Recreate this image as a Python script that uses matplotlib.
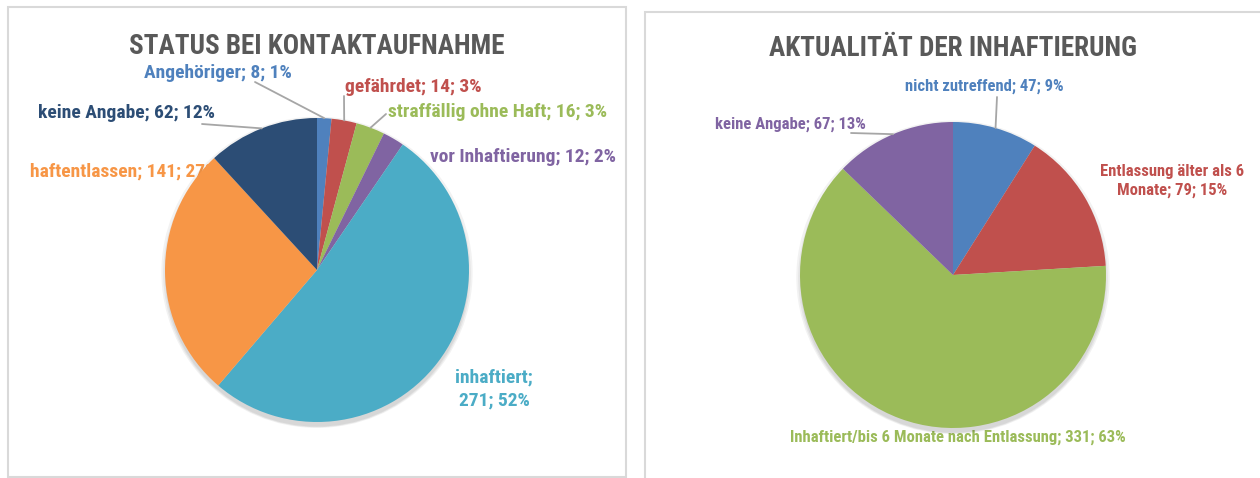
import matplotlib
matplotlib.use("Agg")
import matplotlib.pyplot as plt
from matplotlib import font_manager
from matplotlib.patches import Rectangle, Circle
import numpy as np

# Status bei Kontaktaufnahme
status_names = ["Angehöriger", "gefährdet", "straffällig ohne Haft", "vor Inhaftierung",
                "inhaftiert", "haftentlassen", "keine Angabe"]
status_values = [8, 14, 16, 12, 271, 141, 62]
status_pcts = [1, 3, 3, 2, 52, 27, 12]
status_colors = ["#4F81BD", "#C0504D", "#9BBB59", "#8064A2", "#4BACC6", "#F79646", "#2C4D75"]

# Aktualität der Inhaftierung
akt_names = ["nicht zutreffend", "Entlassung älter als 6\nMonate",
             "Inhaftiert/bis 6 Monate nach Entlassung", "keine Angabe"]
akt_values = [47, 79, 331, 67]
akt_pcts = [9, 15, 63, 13]
akt_colors = ["#4F81BD", "#C0504D", "#9BBB59", "#8064A2"]

W, H = 1260, 478

installed = {f.name for f in font_manager.fontManager.ttflist}
font = next(f for f in ["Liberation Sans Narrow", "Roboto Condensed", "Open Sans", "DejaVu Sans"]
            if f in installed)
plt.rcParams['font.family'] = [font, 'DejaVu Sans']


def px(x, y):
    return x / W, 1 - y / H


fig = plt.figure(figsize=(W / 100, H / 100), dpi=100)

# panel frames
fig.add_artist(Rectangle(px(8, 477), 618 / W, 470 / H, transform=fig.transFigure,
                         fill=False, ec="#D9D9D9", lw=1.5))
fig.add_artist(Rectangle(px(645, 490), 700 / W, 478 / H, transform=fig.transFigure,
                         fill=False, ec="#D9D9D9", lw=1.5))


def pie_axes(cx, cy, r):
    ax = fig.add_axes([(cx - r) / W, (H - cy - r) / H, 2 * r / W, 2 * r / H])
    ax.set_xlim(-1, 1)
    ax.set_ylim(-1, 1)
    ax.axis("off")
    ax.set_zorder(2)
    return ax


def shadow(ax):
    for i, a in enumerate([0.05, 0.05, 0.06]):
        ax.add_patch(Circle((0, -0.015 - 0.008 * i), 1.0 + 0.012 * (2 - i), color="k",
                            alpha=a, lw=0, zorder=0, clip_on=False))


def draw_pie(ax, values, colors):
    wedges, _ = ax.pie(values, colors=colors, startangle=90, counterclock=False,
                       radius=1, wedgeprops=dict(lw=0))
    for w in wedges:
        w.set_clip_on(False)
        w.set_zorder(3)
    ax.set_xlim(-1, 1)
    ax.set_ylim(-1, 1)
    return wedges


def leaders(ax, values, lines):
    cum = np.cumsum([0] + values)
    tot = sum(values)
    for i, (lx, ly) in lines.items():
        ang = np.deg2rad(90 - (cum[i] + values[i] / 2) / tot * 360)
        ax.annotate("", xy=(np.cos(ang), np.sin(ang)), xycoords="data",
                    xytext=px(lx, ly), textcoords="figure fraction",
                    arrowprops=dict(arrowstyle="-", color="#A6A6A6", lw=1.3,
                                    shrinkA=0, shrinkB=0), annotation_clip=False)


# ---------- left chart ----------
fig.text(*px(317, 46), "STATUS BEI KONTAKTAUFNAHME", ha="center", va="center",
         fontsize=19.5, fontweight="bold", color="#595959")

ax1 = pie_axes(317, 270, 152)
shadow(ax1)
draw_pie(ax1, status_values, status_colors)

s_pos = [(218, 73, "center"), (413, 87, "center"), (388, 112, "left"), (430, 157, "left"),
         (494, 389, "center"), (30, 172, "left"), (126, 113, "center")]
for i, (name, v, p) in enumerate(zip(status_names, status_values, status_pcts)):
    x, y, ha = s_pos[i]
    txt = f"{name}; {v}; {p}%"
    if name == "inhaftiert":
        txt = f"{name};\n{v}; {p}%"
    fig.text(*px(x, y), txt, ha=ha, va="center", fontsize=14, fontweight="bold",
             color=status_colors[i], zorder=1, linespacing=1.3)

leaders(ax1, status_values, {0: (255, 82), 1: (344, 96), 2: (386, 114), 6: (202, 124)})

# ---------- right chart ----------
fig.text(*px(953, 48), "AKTUALITÄT DER INHAFTIERUNG", ha="center", va="center",
         fontsize=19.5, fontweight="bold", color="#595959")

ax2 = pie_axes(953, 275, 153)
shadow(ax2)
draw_pie(ax2, akt_values, akt_colors)

a_pos = [(984, 86), (1172, 181), (958, 437), (790, 124)]
for i, (name, v, p) in enumerate(zip(akt_names, akt_values, akt_pcts)):
    x, y = a_pos[i]
    fig.text(*px(x, y), f"{name}; {v}; {p}%", ha="center", va="center", fontsize=12,
             fontweight="bold", color=akt_colors[i], linespacing=1.3, zorder=1)

leaders(ax2, akt_values, {0: (997, 97), 3: (851, 133)})

fig.savefig("out.png", dpi=100)
